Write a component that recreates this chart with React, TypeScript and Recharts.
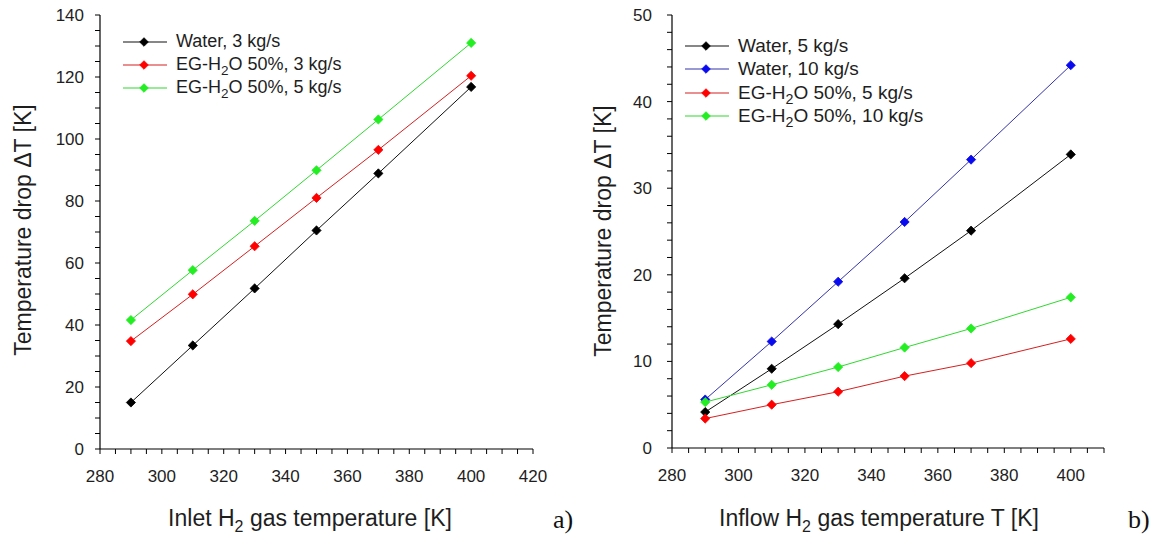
import React from "react";
import { LineChart, Line, XAxis, YAxis, Legend, Label } from "recharts";

const FONT = '"Liberation Sans", Arial, sans-serif';
const INK = "#1e1e1e";

// gas inlet temperatures [K]
const INLET_T = [290, 310, 330, 350, 370, 400];

// a) temperature drop at 3 / 5 kg/s
const WATER_3 = [15.0, 33.4, 51.8, 70.5, 88.9, 116.8];
const EG_3 = [34.8, 49.9, 65.4, 81.0, 96.5, 120.4];
const EG_5 = [41.6, 57.7, 73.6, 89.9, 106.3, 131.0];

// b) temperature drop at 5 / 10 kg/s
const WATER_5 = [4.15, 9.15, 14.3, 19.6, 25.1, 33.9];
const WATER_10 = [5.6, 12.3, 19.2, 26.1, 33.3, 44.2];
const EG_5B = [3.4, 5.0, 6.5, 8.3, 9.8, 12.6];
const EG_10 = [5.3, 7.3, 9.35, 11.6, 13.8, 17.4];

const LEFT_X_LABELS = [280, 300, 320, 340, 360, 380, 400, 420];
const LEFT_Y_LABELS = [0, 20, 40, 60, 80, 100, 120, 140];
const RIGHT_X_LABELS = [280, 300, 320, 340, 360, 380, 400];
const RIGHT_Y_LABELS = [0, 10, 20, 30, 40, 50];

// minor tick positions
function steps(from: number, to: number, step: number) {
  const out: number[] = [];
  for (let v = from; v <= to + 1e-9; v += step) out.push(v);
  return out;
}
const LEFT_X_TICKS = steps(280, 420, 5);
const LEFT_Y_TICKS = steps(0, 140, 5);
const RIGHT_X_TICKS = steps(280, 410, 5);
const RIGHT_Y_TICKS = steps(0, 50, 2);

const leftData = INLET_T.map((t, i) => ({ t, water3: WATER_3[i], eg3: EG_3[i], eg5: EG_5[i] }));
const rightData = INLET_T.map((t, i) => ({
  t,
  water5: WATER_5[i],
  water10: WATER_10[i],
  eg5: EG_5B[i],
  eg10: EG_10[i],
}));

type Series = { key: string; name: string; line: string; fill: string };

const LEFT_SERIES: Series[] = [
  { key: "water3", name: "Water, 3 kg/s", line: "#111111", fill: "#000000" },
  { key: "eg3", name: "EG-H2O 50%, 3 kg/s", line: "#d42020", fill: "#ff0000" },
  { key: "eg5", name: "EG-H2O 50%, 5 kg/s", line: "#30d830", fill: "#22ee22" },
];

const RIGHT_SERIES: Series[] = [
  { key: "water5", name: "Water, 5 kg/s", line: "#111111", fill: "#000000" },
  { key: "water10", name: "Water, 10 kg/s", line: "#3434a8", fill: "#0a0aee" },
  { key: "eg5", name: "EG-H2O 50%, 5 kg/s", line: "#d42020", fill: "#ff0000" },
  { key: "eg10", name: "EG-H2O 50%, 10 kg/s", line: "#30d830", fill: "#22ee22" },
];

function Diamond({ cx, cy, fill, r = 4.6 }: any) {
  if (cx == null || cy == null) return null;
  return (
    <polygon
      points={`${cx},${cy - r} ${cx + r},${cy} ${cx},${cy + r} ${cx - r},${cy}`}
      fill={fill}
      stroke={fill}
      strokeWidth={0.8}
      strokeLinejoin="round"
    />
  );
}

function withSub(name: string) {
  const parts = name.split("H2O");
  if (parts.length < 2) return name;
  return (
    <>
      {parts[0]}H<sub style={{ fontSize: "0.75em", lineHeight: 0 }}>2</sub>O{parts[1]}
    </>
  );
}

function LegendBox({ series, rowHeight, fontSize }: { series: Series[]; rowHeight: number; fontSize: number }) {
  return (
    <div style={{ fontFamily: FONT, fontSize, color: INK }}>
      {series.map((s) => (
        <div key={s.key} style={{ display: "flex", alignItems: "center", height: rowHeight, whiteSpace: "nowrap" }}>
          <svg width={44} height={10} style={{ marginRight: 9 }}>
            <line x1={0} y1={5} x2={44} y2={5} stroke={s.line} strokeWidth={1.2} />
            <Diamond cx={21} cy={5} fill={s.fill} r={4.3} />
          </svg>
          <span>{withSub(s.name)}</span>
        </div>
      ))}
    </div>
  );
}

function xTick(labels: number[]) {
  return (props: any) => {
    const { x, y, payload } = props;
    if (!labels.includes(payload.value)) return <g />;
    return (
      <text x={x} y={y} dy={23} textAnchor="middle" fontSize={17} fill={INK} fontFamily={FONT}>
        {payload.value}
      </text>
    );
  };
}

function yTick(labels: number[]) {
  return (props: any) => {
    const { x, y, payload } = props;
    if (!labels.includes(payload.value)) return <g />;
    return (
      <text x={x} y={y} dy={6} textAnchor="end" fontSize={17} fill={INK} fontFamily={FONT}>
        {payload.value}
      </text>
    );
  };
}

function XTitle({ x, y, before, after }: { x: number; y: number; before: string; after: string }) {
  return (
    <text x={x} y={y} textAnchor="middle" fontSize={23} fill={INK} fontFamily={FONT}>
      {before}
      <tspan dy={6} fontSize={16}>2</tspan>
      <tspan dy={-6}>{after}</tspan>
    </text>
  );
}

function YTitle({ x, y }: { x: number; y: number }) {
  return (
    <text
      x={x}
      y={y}
      transform={`rotate(-90, ${x}, ${y})`}
      textAnchor="middle"
      dominantBaseline="central"
      fontSize={23}
      fill={INK}
      fontFamily={FONT}
    >
      Temperature drop ΔT [K]
    </text>
  );
}

const panelTag: React.CSSProperties = {
  position: "absolute",
  top: 505,
  fontFamily: '"Liberation Serif", "DejaVu Serif", serif',
  fontSize: 26,
  color: "#111",
};

const axisLine = { stroke: "#000", strokeWidth: 1.2 };

export default function App() {
  return (
    <div style={{ position: "absolute", left: 0, top: 0, width: 1155, height: 548, background: "#fff" }}>
      {/* a) */}
      <div style={{ position: "absolute", left: 0, top: 0 }}>
        <LineChart width={575} height={548} data={leftData} margin={{ top: 15, right: 42, bottom: 0, left: 0 }}>
          <XAxis
            dataKey="t"
            type="number"
            domain={[280, 420]}
            ticks={LEFT_X_TICKS}
            interval={0}
            tickSize={5}
            tickMargin={5}
            tick={xTick(LEFT_X_LABELS)}
            height={99}
            stroke="#000"
            axisLine={axisLine}
          >
            <Label content={() => <XTitle x={310} y={526} before="Inlet H" after=" gas temperature [K]" />} />
          </XAxis>
          <XAxis xAxisId="top" orientation="top" type="number" domain={[280, 420]} height={0} tick={false} tickLine={false} axisLine={axisLine} />
          <YAxis
            type="number"
            domain={[0, 140]}
            ticks={LEFT_Y_TICKS}
            interval={0}
            tickSize={5}
            tickMargin={11}
            tick={yTick(LEFT_Y_LABELS)}
            width={100}
            stroke="#000"
            axisLine={axisLine}
          >
            <Label content={() => <YTitle x={23} y={230} />} />
          </YAxis>
          <YAxis yAxisId="right" orientation="right" type="number" domain={[0, 140]} width={0} tick={false} tickLine={false} axisLine={axisLine} />
          <Legend
            layout="horizontal"
            verticalAlign="middle"
            align="center"
            wrapperStyle={{ left: 123, top: 30, width: "auto" }}
            content={() => <LegendBox series={LEFT_SERIES} rowHeight={23} fontSize={18} />}
          />
          {LEFT_SERIES.map((s) => (
            <Line
              key={s.key}
              type="linear"
              dataKey={s.key}
              name={s.name}
              stroke={s.line}
              strokeWidth={1}
              dot={(p: any) => <Diamond key={`${s.key}-${p.index}`} cx={p.cx} cy={p.cy} fill={s.fill} />}
              activeDot={false}
              isAnimationActive={false}
            />
          ))}
        </LineChart>
      </div>

      {/* b) */}
      <div style={{ position: "absolute", left: 575, top: 0 }}>
        <LineChart width={580} height={548} data={rightData} margin={{ top: 15, right: 51, bottom: 0, left: 0 }}>
          <XAxis
            dataKey="t"
            type="number"
            domain={[280, 410]}
            ticks={RIGHT_X_TICKS}
            interval={0}
            tickSize={5}
            tickMargin={5}
            tick={xTick(RIGHT_X_LABELS)}
            height={100}
            stroke="#000"
            axisLine={axisLine}
          >
            <Label content={() => <XTitle x={304} y={526} before="Inflow H" after=" gas temperature T [K]" />} />
          </XAxis>
          <XAxis xAxisId="top" orientation="top" type="number" domain={[280, 410]} height={0} tick={false} tickLine={false} axisLine={axisLine} />
          <YAxis
            type="number"
            domain={[0, 50]}
            ticks={RIGHT_Y_TICKS}
            interval={0}
            tickSize={5}
            tickMargin={15}
            tick={yTick(RIGHT_Y_LABELS)}
            width={97}
            stroke="#000"
            axisLine={axisLine}
          >
            <Label content={() => <YTitle x={28} y={231} />} />
          </YAxis>
          <YAxis yAxisId="right" orientation="right" type="number" domain={[0, 50]} width={0} tick={false} tickLine={false} axisLine={axisLine} />
          <Legend
            layout="horizontal"
            verticalAlign="middle"
            align="center"
            wrapperStyle={{ left: 110, top: 34, width: "auto" }}
            content={() => <LegendBox series={RIGHT_SERIES} rowHeight={23.5} fontSize={19} />}
          />
          {RIGHT_SERIES.map((s) => (
            <Line
              key={s.key}
              type="linear"
              dataKey={s.key}
              name={s.name}
              stroke={s.line}
              strokeWidth={1}
              dot={(p: any) => <Diamond key={`${s.key}-${p.index}`} cx={p.cx} cy={p.cy} fill={s.fill} />}
              activeDot={false}
              isAnimationActive={false}
            />
          ))}
        </LineChart>
      </div>

      <div style={{ ...panelTag, left: 553 }}>a)</div>
      <div style={{ ...panelTag, left: 1128 }}>b)</div>
    </div>
  );
}
